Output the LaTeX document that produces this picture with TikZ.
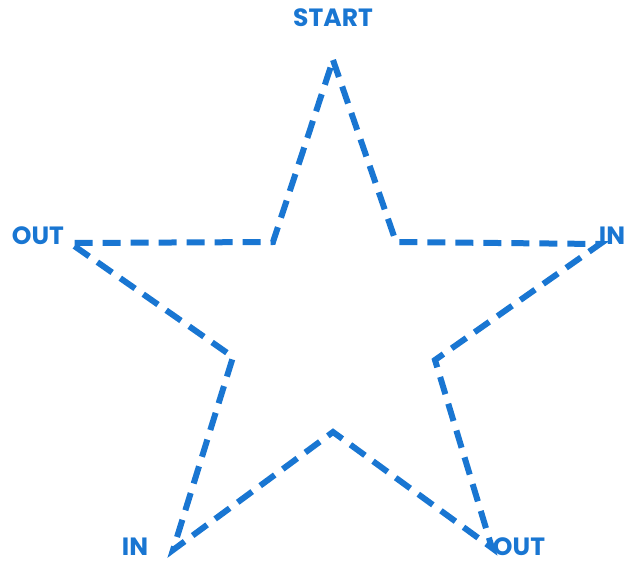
\documentclass[tikz,border=0pt]{standalone}
\usepackage{fontspec}
\setmainfont{Poppins}
\usetikzlibrary{positioning, calc}

\definecolor{starblue}{RGB}{25,118,210}

\begin{document}
\begin{tikzpicture}[
    x=1pt, y=-1pt,
    edge/.style={draw=starblue, line width=6pt, dash pattern=on 18pt off 10pt},
    tag/.style={text=starblue, font=\fontsize{25}{28}\selectfont\bfseries, inner sep=0pt}
]
\useasboundingbox (0,0) rectangle (626,564);

% star points
\coordinate (top) at (333,60);
\coordinate (ur) at (396,242);
\coordinate (right) at (600,244);
\coordinate (lr) at (435,360);
\coordinate (botright) at (492,548);
\coordinate (bot) at (333,432);
\coordinate (botleft) at (173,550);
\coordinate (ll) at (233,357);
\coordinate (left) at (70,243);
\coordinate (ul) at (273,242);

\path [edge] (top) -- (ur) -- (right) -- (lr) -- (botright) -- (bot) -- (botleft) -- (ll) -- (left) -- (ul) -- cycle;

\node [tag] (start) at (333,18) {START};
\node [tag] (outleft) at (38,236) {OUT};
\node [tag] (inright) at (612,236) {IN};
\node [tag] (inleft) at (135,547) {IN};
\node [tag] (outright) at (519,547) {OUT};

\end{tikzpicture}
\end{document}
